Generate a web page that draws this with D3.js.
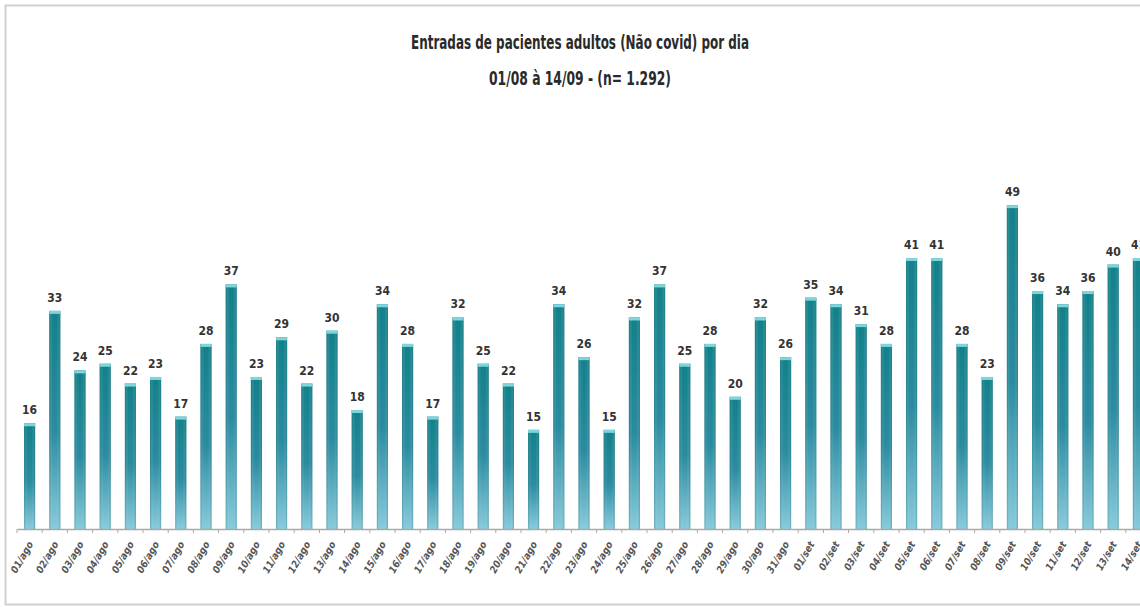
<!DOCTYPE html>
<html>
<head>
<meta charset="utf-8">
<script src="https://cdn.jsdelivr.net/npm/d3@7"></script>
<style>
  body { margin: 0; background: #fff; }
  svg { display: block; }
  text { font-stretch: condensed; }
</style>
</head>
<body>
<div id="chart"></div>
<script>
// dados: entradas por dia, 01/08 a 14/09
var days = ["01/ago", "02/ago", "03/ago", "04/ago", "05/ago", "06/ago", "07/ago", "08/ago", "09/ago", "10/ago",
    "11/ago", "12/ago", "13/ago", "14/ago", "15/ago", "16/ago", "17/ago", "18/ago", "19/ago", "20/ago",
    "21/ago", "22/ago", "23/ago", "24/ago", "25/ago", "26/ago", "27/ago", "28/ago", "29/ago", "30/ago", "31/ago",
    "01/set", "02/set", "03/set", "04/set", "05/set", "06/set", "07/set", "08/set", "09/set", "10/set",
    "11/set", "12/set", "13/set", "14/set"];
var entradas = [16, 33, 24, 25, 22, 23, 17, 28, 37, 23, 29, 22, 30, 18, 34, 28, 17, 32, 25, 22,
    15, 34, 26, 15, 32, 37, 25, 28, 20, 32, 26,
    35, 34, 31, 28, 41, 41, 28, 23, 49, 36, 34, 36, 40, 41];
var titleLines = ["Entradas de pacientes adultos (Não covid) por dia", "01/08 à 14/09 - (n= 1.292)"];

var font = "'DejaVu Sans', 'Liberation Sans', sans-serif";

function makeBarChart(container) {
    var width = 1140, height = 607;
    var data = days.map(function (d, i) { return { day: d, value: entradas[i] }; });

    var svg = d3.select(container)
        .append("svg")
        .attr("width", width)
        .attr("height", height);

    // moldura cinza
    svg.append("rect")
        .attr("x", 5.5)
        .attr("y", 5.5)
        .attr("width", 1160)
        .attr("height", 599)
        .attr("fill", "none")
        .attr("stroke", "#d0d0d0")
        .attr("stroke-width", 2);

    var defs = svg.append("defs");
    var grad = defs.append("linearGradient")
        .attr("id", "barGrad")
        .attr("x1", 0).attr("y1", 0)
        .attr("x2", 0).attr("y2", 1);
    grad.append("stop").attr("offset", "0%").attr("stop-color", "#12818a");
    grad.append("stop").attr("offset", "55%").attr("stop-color", "#2b8ca0");
    grad.append("stop").attr("offset", "100%").attr("stop-color", "#88cbdc");

    var side = defs.append("linearGradient")
        .attr("id", "barSide")
        .attr("x1", 0).attr("y1", 0)
        .attr("x2", 1).attr("y2", 0);
    side.append("stop").attr("offset", "0%").attr("stop-color", "#0d5f66").attr("stop-opacity", 0.35);
    side.append("stop").attr("offset", "30%").attr("stop-color", "#ffffff").attr("stop-opacity", 0);
    side.append("stop").attr("offset", "70%").attr("stop-color", "#ffffff").attr("stop-opacity", 0);
    side.append("stop").attr("offset", "100%").attr("stop-color", "#0d5f66").attr("stop-opacity", 0.35);

    var x = d3.scaleBand()
        .domain(days)
        .range([17, 17 + days.length * 25.2])
        .paddingInner(0.56)
        .paddingOuter(0.28);

    var y = d3.scaleLinear()
        .domain([0, 60])
        .range([529, 132.4]);

    // titulo (fonte estreita como Calibri)
    var titleWidths = [338, 182];
    svg.selectAll(".title")
        .data(titleLines)
        .enter()
        .append("text")
        .attr("class", "title")
        .attr("x", 580)
        .attr("y", function (d, i) { return 49 + i * 36; })
        .attr("text-anchor", "middle")
        .attr("textLength", function (d, i) { return titleWidths[i]; })
        .attr("lengthAdjust", "spacingAndGlyphs")
        .style("font-family", font)
        .style("font-size", "19px")
        .style("font-weight", "bold")
        .style("fill", "#2a2a2a")
        .text(function (d) { return d; });

    var bars = svg.selectAll(".bar")
        .data(data)
        .enter().append("g")
        .attr("class", "bar");

    bars.append("rect")
        .attr("x", function (d) { return x(d.day); })
        .attr("y", function (d) { return y(d.value); })
        .attr("width", x.bandwidth())
        .attr("height", function (d) { return y(0) - y(d.value); })
        .attr("fill", "url(#barGrad)");

    bars.append("rect")
        .attr("x", function (d) { return x(d.day); })
        .attr("y", function (d) { return y(d.value); })
        .attr("width", x.bandwidth())
        .attr("height", function (d) { return y(0) - y(d.value); })
        .attr("fill", "url(#barSide)");

    // topo claro
    bars.append("rect")
        .attr("x", function (d) { return x(d.day); })
        .attr("y", function (d) { return y(d.value); })
        .attr("width", x.bandwidth())
        .attr("height", 3)
        .attr("fill", "#7fd6da");

    bars.append("text")
        .attr("x", function (d) { return x(d.day) + x.bandwidth() / 2; })
        .attr("y", function (d) { return y(d.value) - 9; })
        .attr("text-anchor", "middle")
        .style("font-family", font)
        .style("font-size", "12px")
        .style("font-weight", "bold")
        .style("fill", "#333")
        .text(function (d) { return d.value; });

    // eixo x
    var axis = svg.append("g")
        .attr("transform", "translate(0," + y(0) + ")")
        .call(d3.axisBottom(x).tickSize(0).tickFormat(""));
    axis.select(".domain")
        .attr("stroke", "#a8a8a8")
        .attr("stroke-width", 1.5);

    var step = x.step();
    svg.selectAll(".tick-mark")
        .data(d3.range(days.length + 1))
        .enter()
        .append("line")
        .attr("class", "tick-mark")
        .attr("x1", function (i) { return x.range()[0] + i * step; })
        .attr("x2", function (i) { return x.range()[0] + i * step; })
        .attr("y1", y(0))
        .attr("y2", y(0) + 4)
        .attr("stroke", "#a8a8a8");

    svg.selectAll(".day-label")
        .data(data)
        .enter()
        .append("text")
        .attr("class", "day-label")
        .attr("transform", function (d) {
            var cx = x(d.day) + x.bandwidth() / 2 + 4;
            return "translate(" + cx + "," + (y(0) + 15) + ") rotate(-60)";
        })
        .attr("text-anchor", "end")
        .style("font-family", font)
        .style("font-size", "10px")
        .style("font-style", "italic")
        .style("font-weight", "bold")
        .style("fill", "#555")
        .text(function (d) { return d.day; });
}

makeBarChart("#chart");
</script>
</body>
</html>
